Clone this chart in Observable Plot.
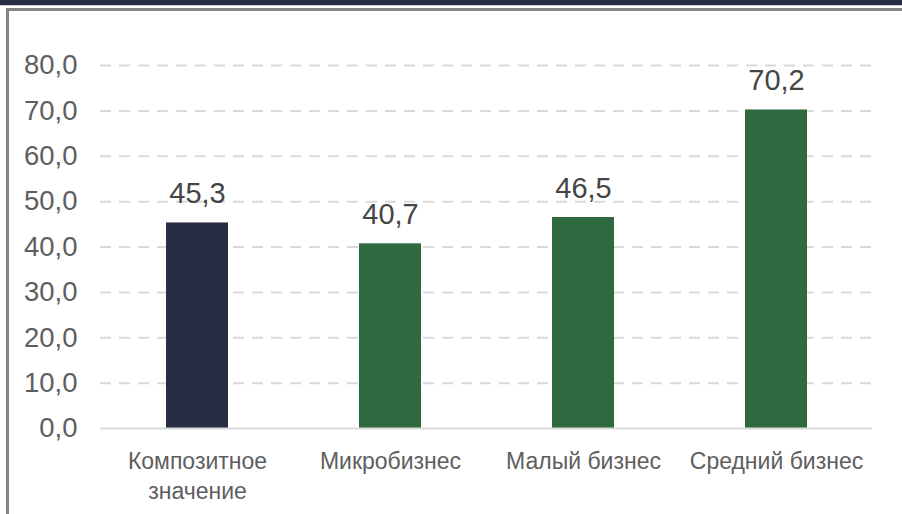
<!DOCTYPE html>
<html>
<head>
<meta charset="utf-8">
<script src="https://cdn.jsdelivr.net/npm/d3@7"></script>
<script src="https://cdn.jsdelivr.net/npm/@observablehq/plot@0.6"></script>
<style>
  html, body { margin: 0; padding: 0; background: #fff; }
  body { width: 902px; height: 514px; position: relative; overflow: hidden; font-family: "Liberation Sans", Arial, sans-serif; }
  #band { position: absolute; left: 0; top: 0; width: 902px; height: 5px; background: #272d42; }
  #bandline { position: absolute; left: 0; top: 5px; width: 902px; height: 1px; background: #c8c8cc; }
  #frameTop { position: absolute; left: 6px; top: 8px; width: 896px; height: 3px; background: #858585; }
  #frameLeft { position: absolute; left: 6px; top: 8px; width: 3px; height: 506px; background: #858585; }
  #chart { position: absolute; left: 0; top: 0; }
</style>
</head>
<body>
<div id="band"></div>
<div id="bandline"></div>
<div id="frameTop"></div>
<div id="frameLeft"></div>
<div id="chart"></div>
<script>
const categories = ["Композитное значение", "Микробизнес", "Малый бизнес", "Средний бизнес"];
const tickLabels = ["Композитное\nзначение", "Микробизнес", "Малый бизнес", "Средний бизнес"];
const values = [45.3, 40.7, 46.5, 70.2];
const barColors = ["#272d42", "#2e6940", "#2e6940", "#2e6940"];
const yTicks = [0, 10, 20, 30, 40, 50, 60, 70, 80];

const data = categories.map((c, i) => ({category: c, value: values[i], color: barColors[i]}));
const fmt = v => v.toFixed(1).replace(".", ",");

const plot = Plot.plot({
  width: 902,
  height: 514,
  marginLeft: 100,
  marginRight: 30,
  marginTop: 65,
  marginBottom: 86,
  style: {fontFamily: "'Liberation Sans', Arial, sans-serif", background: "transparent", overflow: "visible"},
  x: {domain: categories, paddingInner: 0.68, paddingOuter: 0.34, align: 0.5, label: null},
  y: {domain: [0, 80], label: null},
  marks: [
    Plot.gridY(yTicks.filter(t => t > 0), {stroke: "#d9d9d9", strokeOpacity: 1, strokeWidth: 2, strokeDasharray: "11,8"}),
    Plot.barY(data, {x: "category", y: "value", fill: "color"}),
    Plot.ruleY([0], {stroke: "#d9d9d9", strokeWidth: 2}),
    Plot.text(data, {x: "category", y: "value", text: d => fmt(d.value), dy: -20, lineAnchor: "bottom", fontSize: 29, fill: "#454545"}),
    Plot.axisY(yTicks, {tickSize: 0, tickPadding: 23, tickFormat: fmt, fontSize: 27.5, fill: "#5e5e5e", label: null}),
    Plot.axisX({tickSize: 0, tickPadding: 20, tickFormat: d => tickLabels[categories.indexOf(d)], fontSize: 23, lineHeight: 1.28, fill: "#5e5e5e", label: null})
  ]
});
document.getElementById("chart").appendChild(plot);
</script>
</body>
</html>
